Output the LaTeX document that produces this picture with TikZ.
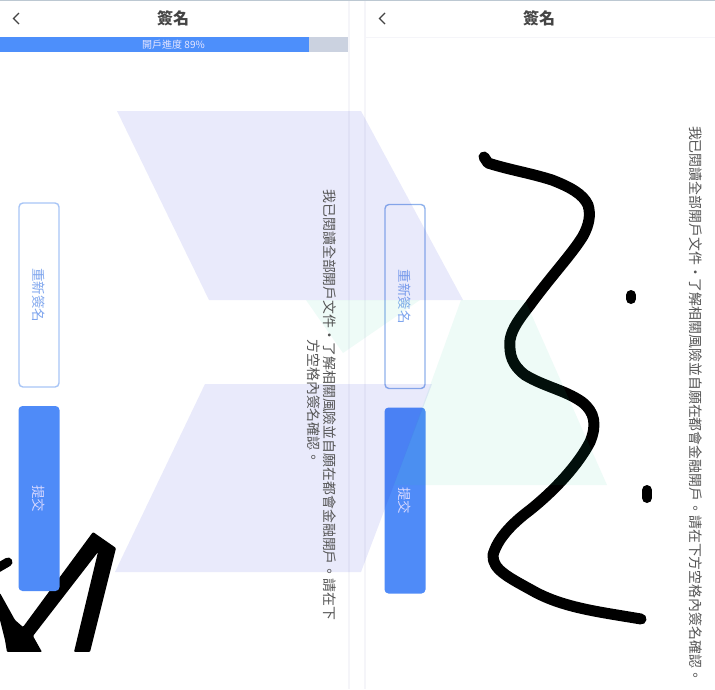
\documentclass[tikz,border=0pt]{standalone}
\usepackage{fontspec}
\setmainfont{Liberation Sans}
\newfontfamily\cjk{Noto Sans CJK TC}
\tikzset{
  x=1pt,y=-1pt,
  lav/.style={fill=lavshade,draw=none,fill opacity=.095},
  mint/.style={fill=mintshade,draw=none,fill opacity=.075},
  ink/.style={draw=black,line width=11pt,line cap=round,line join=round},
  title/.style={font=\cjk\fontsize{16}{16}\selectfont\bfseries,text=titlegray,inner sep=0pt},
  vtext/.style={font=\cjk\fontsize{13.9}{13.9}\selectfont,text=bodygray,rotate=-90,inner sep=0pt},
  btntext/.style={font=\cjk\fontsize{13.5}{13.5}\selectfont,rotate=-90,inner sep=0pt},
  backarrow/.style={draw=titlegray,line width=1.4pt},
  outlinebtn/.style={line width=1.4pt,fill=white,rounded corners=4pt,minimum width=40pt,minimum height=184pt,inner sep=0pt},
  solidbtn/.style={fill=btnblue,draw=none,rounded corners=4pt,minimum width=41pt,inner sep=0pt},
}
\definecolor{lavshade}{HTML}{1E26D5}
\definecolor{mintshade}{HTML}{23CD9B}
\definecolor{titlegray}{HTML}{444444}
\definecolor{bodygray}{HTML}{555555}
\definecolor{btnedge}{HTML}{A8C5F6}
\definecolor{btnedgeb}{HTML}{8FB2EC}
\definecolor{btntextc}{HTML}{7FA6EE}
\definecolor{btnblue}{HTML}{4F8BF8}
\definecolor{barblue}{HTML}{4D8FFB}
\definecolor{bargray}{HTML}{CBD2E0}
\definecolor{rulegray}{HTML}{F5F5F9}
\definecolor{toprule}{HTML}{BCC8D2}
\begin{document}
\begin{tikzpicture}
\useasboundingbox (0,0) rectangle (715,689);
\fill[white] (0,0) rectangle (715,689);
% top edge and panel rules
\fill[toprule] (0,0) rectangle (715,1);
\fill[rulegray] (348,1) rectangle (350,689);
\fill[rulegray] (364,1) rectangle (365.5,689);
\fill[rulegray] (365,37) rectangle (715,38);
% headers
\node[title] (t1) at (173,18.5) {簽名};
\node[title] (t2) at (539,18.5) {簽名};
\draw[backarrow] (19,13) -- (13.5,18.5) -- (19,24);
\draw[backarrow] (385,13) -- (379.5,18.5) -- (385,24);
% progress
\fill[bargray] (0,37) rectangle (348,52);
\fill[barblue] (0,37) rectangle (309,52);
\node[font=\cjk\fontsize{10}{10}\selectfont,text=white!90!blue,inner sep=0pt] (p) at (173.5,45) {開戶進度 89\%};
% left ink
\begin{scope}
\clip (0,500) rectangle (140,651);
\fill[black,rounded corners=1pt] (93,532) -- (116,548) -- (90,652) -- (74,652) -- (98,552)
  -- (33,636) -- (42,652) -- (7,652) -- (5,640) -- (0,620) -- (0,593) -- (15,620) -- (23,627) -- cycle;
\draw[ink,line width=9pt] (-4,569) -- (8,562);
\end{scope}
% buttons
\node[outlinebtn,draw=btnedge] (b1) at (39,295) {};
\node[solidbtn,minimum height=185pt] (b2) at (39,498.5) {};
\node[outlinebtn,draw=btnedgeb] (b3) at (405,296.5) {};
\node[solidbtn,minimum height=186pt] (b4) at (405,500.5) {};
\node[btntext,text=btntextc] at (b1) {重新簽名};
\node[btntext,text=white!85!blue] at (b2) {提交};
\node[btntext,text=btntextc] at (b3) {重新簽名};
\node[btntext,text=white!85!blue] at (b4) {提交};
% right ink
\draw[ink] (484,157) -- (488,163) .. controls (510,170) and (530,173) .. (552,180)
  .. controls (570,187) and (583,194) .. (588,205) .. controls (591,215) and (589,225) .. (583,236)
  .. controls (572,254) and (552,275) .. (530,305) .. controls (520,318) and (512,328) .. (510,340)
  .. controls (509,355) and (512,365) .. (525,375) .. controls (545,387) and (565,390) .. (582,402)
  .. controls (595,412) and (597,425) .. (590,442) .. controls (578,465) and (555,490) .. (530,510)
  .. controls (510,525) and (497,540) .. (493,555) .. controls (492,570) and (510,578) .. (535,592)
  .. controls (565,608) and (600,612) .. (641,619);
\draw[ink,line width=10pt] (631,295) -- (631,299);
\draw[ink,line width=10pt] (647,490) -- (647,498);
% overlays
\fill[lav] (117,111) -- (361,111) -- (463,300) -- (209,300) -- cycle;
\fill[lav] (205,384) -- (432,384) -- (361,572) -- (115,572) -- cycle;
\fill[mint] (306,300) -- (420,300) -- (343,353) -- cycle;
\fill[mint] (461,300) -- (525,300) -- (607,485) -- (394,485) -- cycle;
% statement text
\node[vtext] (s1) at (329.5,405) {我已閱讀全部開戶文件・了解相關風險並自願在都會金融開戶。請在下};
\node[vtext] (s2) at (314,402) {方空格內簽名確認。};
\node[vtext] (s3) at (696,404) {我已閱讀全部開戶文件・了解相關風險並自願在都會金融開戶。請在下方空格內簽名確認。};
\end{tikzpicture}
\end{document}
